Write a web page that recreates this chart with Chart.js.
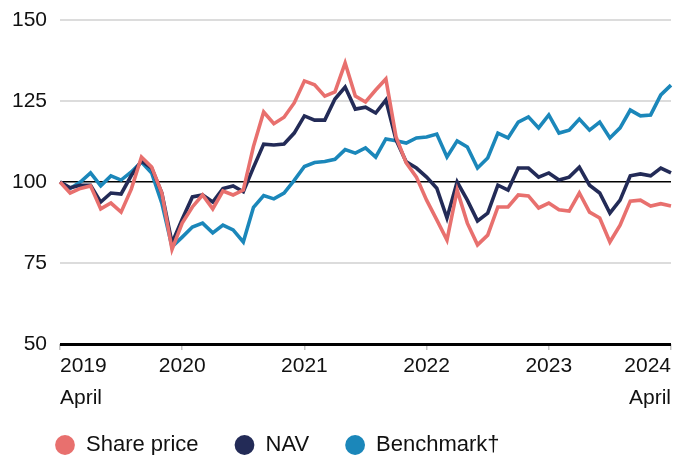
<!DOCTYPE html>
<html>
<head>
<meta charset="utf-8">
<script src="https://cdn.jsdelivr.net/npm/chart.js@4"></script>
<style>
  html, body { margin: 0; padding: 0; background: #fff; }
  #wrap { width: 677px; height: 455px; }
</style>
</head>
<body>
<div id="wrap"><canvas id="canvas"></canvas></div>
<script>
// monthly, April 2019 .. April 2024, rebased to 100
const months = [
    'Apr 19','May 19','Jun 19','Jul 19','Aug 19','Sep 19','Oct 19','Nov 19','Dec 19','Jan 20','Feb 20','Mar 20',
    'Apr 20','May 20','Jun 20','Jul 20','Aug 20','Sep 20','Oct 20','Nov 20','Dec 20','Jan 21','Feb 21','Mar 21',
    'Apr 21','May 21','Jun 21','Jul 21','Aug 21','Sep 21','Oct 21','Nov 21','Dec 21','Jan 22','Feb 22','Mar 22',
    'Apr 22','May 22','Jun 22','Jul 22','Aug 22','Sep 22','Oct 22','Nov 22','Dec 22','Jan 23','Feb 23','Mar 23',
    'Apr 23','May 23','Jun 23','Jul 23','Aug 23','Sep 23','Oct 23','Nov 23','Dec 23','Jan 24','Feb 24','Mar 24',
    'Apr 24'
];
const sharePrice = [
    100, 96.6, 98, 98.8, 91.7, 93.5, 90.7, 97.8, 107.7, 104.6, 96.6, 79.2,
    87.3, 92.3, 96, 91.7, 97.2, 96, 97.5, 111, 121.6, 118, 120, 124.4,
    131.2, 130, 126.5, 127.8, 136.7, 126.5, 124.7, 128.4, 131.8, 113.9, 105.9, 101.5,
    94.4, 88.3, 82.1, 97.5, 87.3, 80.6, 83.6, 92.3, 92.3, 96, 95.7, 92,
    93.5, 91.4, 91, 96.6, 90.7, 88.9, 81.5, 86.7, 94.1, 94.4, 92.6, 93.3,
    92.6
];
const nav = [
    100, 98.2, 99, 99, 93.8, 96.6, 96.3, 102, 106.5, 104.3, 96.6, 81.2,
    88.5, 95.4, 96, 93.8, 98, 98.8, 97, 104.5, 111.7, 111.4, 111.7, 115.1,
    120.4, 119.1, 119.1, 125.6, 129.3, 122.5, 123.1, 121.3, 125.3, 113, 106.2, 104.3,
    101.5, 98.1, 88.9, 100, 94.4, 88, 90.4, 99, 97.5, 104.3, 104.3, 101.5,
    102.8, 100.6, 101.5, 104.6, 99, 96.6, 90.4, 94.4, 101.9, 102.5, 101.9, 104.3,
    102.8
];
const benchmark = [
    100, 98, 100, 102.8, 98.8, 101.9, 100.6, 103.1, 106.2, 102.8, 93.5, 80,
    83, 86.1, 87.3, 84.3, 86.7, 85.2, 81.5, 92.2, 95.8, 94.8, 96.6, 100.5,
    104.8, 106, 106.3, 107, 110, 108.9, 110.5, 107.7, 113.3, 112.7, 112, 113.6,
    113.9, 114.8, 107.7, 112.7, 110.8, 104.3, 107.4, 115.1, 113.6, 118.5, 120.1, 116.7,
    120.7, 115.1, 116, 119.4, 116, 118.5, 113.6, 116.7, 122.2, 120.4, 120.7, 126.9,
    129.9
];
const yearLabels = [['2019', 'April'], '2020', '2021', '2022', '2023', ['2024', 'April']];
const yTicks = [50, 75, 100, 125, 150];

const FONT = '"Liberation Sans", Arial, sans-serif';
Chart.defaults.font.family = FONT;
Chart.defaults.color = '#111';

// legend sits a bit left of and above where the layout puts it
const legendOffset = {
    id: 'legendOffset',
    beforeDraw(chart) {
        chart.legend.left = 19;
        chart.legend.top = 398;
    }
};

let ctx = document.getElementById('canvas').getContext('2d');
window.myLine = new Chart(ctx, {
    type: 'line',
    data: {
        labels: months,
        datasets: [{
            label: 'Share price',
            data: sharePrice,
            borderColor: '#e8706e',
            backgroundColor: '#e8706e'
        }, {
            label: 'NAV',
            data: nav,
            borderColor: '#232b57',
            backgroundColor: '#232b57'
        }, {
            label: 'Benchmark\u2020',
            data: benchmark,
            borderColor: '#1b87ba',
            backgroundColor: '#1b87ba'
        }]
    },
    plugins: [legendOffset],
    options: {
        responsive: true,
        maintainAspectRatio: false,
        animation: false,
        elements: {
            point: { radius: 0 },
            line: { borderWidth: 3.6, tension: 0, fill: false }
        },
        layout: { padding: { top: 20, right: 6, left: 0, bottom: -27 } },
        scales: {
            x: {
                border: { display: false },
                grid: {
                    drawOnChartArea: false,
                    drawTicks: true,
                    tickLength: 6,
                    color: '#c4c4c4',
                    lineWidth: 1.5
                },
                ticks: {
                    autoSkip: false,
                    maxRotation: 0,
                    align: 'inner',
                    padding: 0,
                    font: { size: 21, lineHeight: 1.52 },
                    color: '#111',
                    callback: function (v, i) {
                        return i % 12 === 0 ? yearLabels[i / 12] : null;
                    }
                },
                afterFit: function (scale) { scale.height = 70; }
            },
            y: {
                min: 50,
                max: 150,
                border: { display: false },
                afterBuildTicks: function (scale) {
                    scale.ticks = yTicks.map(v => ({ value: v }));
                },
                grid: {
                    drawTicks: false,
                    color: c => c.tick.value === 100 || c.tick.value === 50 ? '#000' : '#dcdcdc',
                    lineWidth: c => c.tick.value === 50 ? 3 : (c.tick.value === 100 ? 1.5 : 2)
                },
                ticks: {
                    padding: 13,
                    font: { size: 21 },
                    color: '#111'
                },
                afterFit: function (scale) {
                    scale.width = 60;
                    scale.paddingTop = 0;
                    scale.paddingBottom = 0;
                }
            }
        },
        plugins: {
            tooltip: { enabled: false },
            legend: {
                position: 'bottom',
                align: 'start',
                labels: {
                    usePointStyle: true,
                    pointStyle: 'circle',
                    boxWidth: 20,
                    boxHeight: 14,
                    padding: 36,
                    color: '#111',
                    font: { size: 22 },
                    generateLabels: function (chart) {
                        return Chart.defaults.plugins.legend.labels.generateLabels(chart).map(function (l) {
                            l.lineWidth = 0;
                            return l;
                        });
                    }
                }
            }
        }
    }
});
</script>
</body>
</html>
